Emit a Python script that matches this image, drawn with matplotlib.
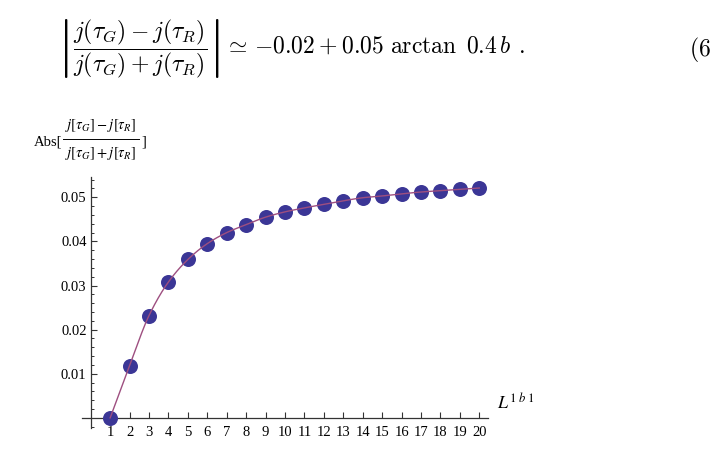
import numpy as np
import matplotlib
matplotlib.use('Agg')
import matplotlib.pyplot as plt
from matplotlib.lines import Line2D
from matplotlib.ticker import FixedLocator, MultipleLocator, NullFormatter

# ---- data ----
b_values = list(range(1, 21))
asym_values = [0.0, 0.0118, 0.0232, 0.0308, 0.0359, 0.0395, 0.0420, 0.0438,
               0.0455, 0.0467, 0.0476, 0.0484, 0.0492, 0.0499, 0.0503, 0.0508,
               0.0512, 0.0515, 0.0518, 0.0521]
x_tick_values = list(range(1, 21))
x_tick_labels = [str(v) for v in x_tick_values]
y_tick_values = [0.01, 0.02, 0.03, 0.04, 0.05]
y_tick_labels = ['0.01', '0.02', '0.03', '0.04', '0.05']


def smooth_through(x, y, n=400):
    """Monotone cubic (Fritsch-Carlson) curve passing through the data."""
    x = np.asarray(x, float)
    y = np.asarray(y, float)
    h = np.diff(x)
    d = np.diff(y) / h
    m = np.zeros_like(y)
    m[0], m[-1] = d[0], d[-1]
    for k in range(1, len(x) - 1):
        if d[k - 1] * d[k] <= 0:
            m[k] = 0.0
        else:
            w1 = 2 * h[k] + h[k - 1]
            w2 = h[k] + 2 * h[k - 1]
            m[k] = (w1 + w2) / (w1 / d[k - 1] + w2 / d[k])
    xs = np.linspace(x[0], x[-1], n)
    idx = np.clip(np.searchsorted(x, xs) - 1, 0, len(x) - 2)
    t = (xs - x[idx]) / h[idx]
    h00 = 2 * t**3 - 3 * t**2 + 1
    h10 = t**3 - 2 * t**2 + t
    h01 = -2 * t**3 + 3 * t**2
    h11 = t**3 - t**2
    ys = h00 * y[idx] + h10 * h[idx] * m[idx] + h01 * y[idx + 1] + h11 * h[idx] * m[idx + 1]
    return xs, ys


W, H = 712, 454
fig = plt.figure(figsize=(W / 100, H / 100), dpi=100)
fig.patch.set_facecolor('white')

ax = fig.add_axes([82 / W, 1 - 428 / H, (488 - 82) / W, (428 - 177) / H])
ax.set_xlim(-0.45, 20.45)
ax.set_ylim(-0.0023, 0.0546)

cx, cy = smooth_through(b_values, asym_values)
ax.plot(b_values, asym_values, 'o', ms=10.8, color='#3b3696', mec='none', zorder=3)
ax.plot(cx, cy, '-', lw=1.0, color='#9e4f80', zorder=4)

# Mathematica-style axes through origin
for s in ['top', 'right']:
    ax.spines[s].set_visible(False)
ax.spines['left'].set_position(('data', 0))
ax.spines['bottom'].set_position(('data', 0))
for s in ['left', 'bottom']:
    ax.spines[s].set_linewidth(0.9)
    ax.spines[s].set_color('#333333')

ax.xaxis.set_major_locator(FixedLocator(x_tick_values))
ax.set_xticklabels(x_tick_labels)
ax.yaxis.set_major_locator(FixedLocator(y_tick_values))
ax.set_yticklabels(y_tick_labels)
ax.yaxis.set_minor_locator(MultipleLocator(0.002))
ax.yaxis.set_minor_formatter(NullFormatter())

for lab in ax.get_xticklabels() + ax.get_yticklabels():
    lab.set_fontfamily('Liberation Serif')
    lab.set_fontsize(10.5)

ax.tick_params(axis='x', direction='in', length=4.5, width=0.8, pad=6, color='#333333')
ax.tick_params(axis='y', which='major', direction='in', length=4.5, width=0.8, pad=3, color='#333333')
ax.tick_params(axis='y', which='minor', direction='in', length=2.5, width=0.7, color='#333333')

# y axis label: Abs[ fraction ]
lab_fs = 10.5
fig.text(62 / W, 1 - 142 / H, 'Abs[', ha='right', va='center', fontsize=lab_fs,
         family='Liberation Serif')
fig.text(101 / W, 1 - 126 / H, r'$j[\tau_G]-j[\tau_R]$', ha='center', va='center',
         fontsize=lab_fs, math_fontfamily='stix')
fig.text(101 / W, 1 - 153 / H, r'$j[\tau_G]+j[\tau_R]$', ha='center', va='center',
         fontsize=lab_fs, math_fontfamily='stix')
fig.add_artist(Line2D([63 / W, 139 / W], [1 - 139 / H, 1 - 139 / H],
                      transform=fig.transFigure, color='black', lw=0.7))
fig.text(141 / W, 1 - 142 / H, ']', ha='left', va='center', fontsize=lab_fs,
         family='Liberation Serif')

# x axis label
fig.text(497 / W, 1 - 410 / H, r'$L^{1\ b\ 1}$', ha='left', va='baseline',
         fontsize=13, math_fontfamily='stix')

# equation above the plot
eq_fs = 17
fig.text(57 / W, 1 - 49 / H,
         r'$\left|\dfrac{j(\tau_G)-j(\tau_R)}{j(\tau_G)+j(\tau_R)}\right|\simeq\,{-}0.02+0.05\,\,\arctan\,\,0.4\,b\;\,.$',
         ha='left', va='center', fontsize=eq_fs, math_fontfamily='cm')
fig.text(711 / W, 1 - 49 / H, r'$(6$', ha='right', va='center', fontsize=eq_fs,
         math_fontfamily='cm')

fig.savefig('out.png', dpi=100, facecolor='white')
